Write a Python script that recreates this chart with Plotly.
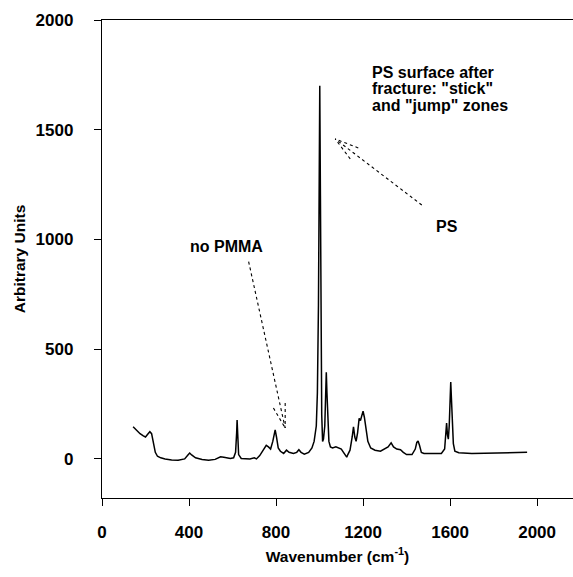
import plotly.graph_objects as go

# Raman spectrum
wavenumber = [143, 150, 160, 175, 190, 200, 210, 220, 228, 235, 245, 255, 270, 290, 320, 350, 380,
              395, 403, 412, 430, 460, 490, 520, 545, 560, 590, 605, 614, 619, 621, 624, 628, 640,
              680, 700, 710, 725, 740, 755, 765, 775, 785, 792, 796, 802, 810, 820, 835, 848, 860,
              880, 895, 905, 915, 930, 950, 965, 975, 985, 990, 995, 998, 1001, 1004, 1007, 1010,
              1014, 1018, 1024, 1028, 1031, 1034, 1038, 1043, 1050, 1060, 1075, 1090, 1100, 1110,
              1120, 1125, 1130, 1140, 1150, 1156, 1162, 1168, 1175, 1182, 1188, 1195, 1200, 1206,
              1213, 1222, 1235, 1255, 1280, 1300, 1315, 1329, 1340, 1355, 1372, 1385, 1400, 1425,
              1440, 1447, 1453, 1460, 1468, 1480, 1520, 1560, 1575, 1580, 1584, 1588, 1592, 1596,
              1600, 1603, 1606, 1610, 1615, 1622, 1640, 1700, 1760, 1820, 1880, 1954]
intensity = [147, 140, 128, 115, 105, 100, 112, 124, 115, 80, 30, 12, 5, 0, -5, -6, 0,
             18, 27, 18, 5, -3, -6, -2, 10, 8, 2, 5, 30, 120, 177, 110, 20, 2,
             0, 5, 0, 15, 40, 62, 55, 45, 80, 125, 132, 100, 50, 35, 25, 40, 30,
             25, 30, 42, 30, 22, 30, 50, 80, 150, 300, 700, 1200, 1700, 1200, 600, 200,
             80, 90, 150, 300, 395, 300, 150, 80, 55, 50, 55, 50, 45, 30,
             15, 8, 20, 40, 100, 146, 100, 80, 120, 185, 175, 205, 218, 190,
             130, 80, 50, 40, 35, 45, 55, 73, 55, 45, 42, 30, 20, 20,
             45, 75, 82, 60, 30, 25, 25, 25, 45, 120, 163, 110, 90, 150,
             300, 350, 280, 150, 70, 35, 28, 25, 26, 27, 28, 30]

x_ticks = [0, 400, 800, 1200, 1600, 2000]
y_ticks = [0, 500, 1000, 1500, 2000]

font = "Arial, Liberation Sans, sans-serif"

fig = go.Figure(go.Scatter(x=wavenumber, y=intensity, mode="lines",
                           line=dict(color="black", width=1.5)))

# dotted pointers
dot = dict(color="black", width=1.1, dash="dot")
pointers = [
    (674, 899, 842, 141), (788, 232, 842, 141), (842, 255, 842, 141),
    (1470, 1157, 1072, 1458), (1178, 1417, 1072, 1458), (1141, 1367, 1072, 1458),
]
for x0, y0, x1, y1 in pointers:
    fig.add_shape(type="line", xref="x", yref="y", x0=x0, y0=y0, x1=x1, y1=y1, line=dot)

txt = dict(family=font, size=16, color="black", weight="bold")
fig.add_annotation(x=572, y=970, text="no PMMA", showarrow=False, font=txt)
fig.add_annotation(x=1587, y=1061, text="PS", showarrow=False, font=txt)
for i, line in enumerate(['PS surface after', 'fracture: "stick"', 'and "jump" zones']):
    fig.add_annotation(x=1233, y=1763 - i * 77, text=line, showarrow=False, font=txt,
                       xanchor="left", yanchor="middle")

fig.update_layout(
    width=573, height=577,
    margin=dict(l=102, r=0, t=20, b=79),
    plot_bgcolor="white", paper_bgcolor="white",
    showlegend=False,
    font=dict(family=font, size=15, color="black"),
)
fig.update_xaxes(range=[0, 2165], tickvals=x_ticks, ticks="outside", ticklen=7,
                 tickcolor="black", showline=True, linecolor="black", linewidth=1.3,
                 mirror=True, showgrid=False, zeroline=False, automargin=False,
                 ticklabelstandoff=11,
                 tickfont=dict(family=font, size=17, color="black", weight="bold"),
                 title=dict(text="Wavenumber (cm<sup>-1</sup>)", standoff=10,
                            font=dict(family=font, size=15.5, weight="bold")))
fig.update_yaxes(range=[-178, 2000], tickvals=y_ticks, ticks="outside", ticklen=7,
                 tickcolor="black", showline=True, linecolor="black", linewidth=1.3,
                 showgrid=False, zeroline=False, automargin=False,
                 ticklabelstandoff=17,
                 tickfont=dict(family=font, size=17, color="black", weight="bold"),
                 title=dict(text="Arbitrary Units", standoff=6,
                            font=dict(family=font, size=15.5, weight="bold")))

fig.write_html("out.html", config={"displayModeBar": False},
               post_script="document.body.style.margin='0px';")
